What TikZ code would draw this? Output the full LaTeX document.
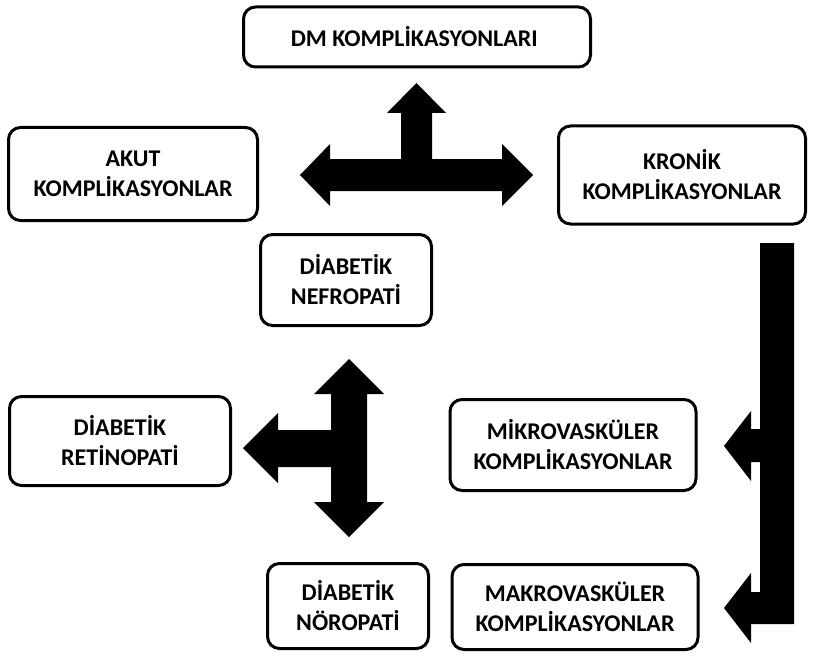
\documentclass[tikz,border=0pt]{standalone}
\usepackage{fontspec}
\setmainfont{Carlito}
\usepackage{tikz}

\begin{document}
\begin{tikzpicture}[x=1pt, y=-1pt, style={
  kutu/.style={
    draw,
    line width=3pt,
    rounded corners=12pt,
    align=center,
    inner sep=0pt,
    font=\fontsize{24}{30}\selectfont\bfseries,
  },
  blokok/.style={
    fill=black,
  }
}]
\useasboundingbox (0,0) rectangle (824,658);
\draw[]
  node[kutu, minimum width=347, minimum height=60] (dm) at (417,37) {
    DM KOMPLİKASYONLARI
  }
  node[kutu, minimum width=249, minimum height=93] (akut) at (133,174) {
    AKUT\\KOMPLİKASYONLAR
  }
  node[kutu, minimum width=247, minimum height=98] (kronik) at (682,175) {
    KRONİK\\KOMPLİKASYONLAR
  }
  node[kutu, minimum width=171, minimum height=91] (nefro) at (346,280) {
    DİABETİK\\NEFROPATİ
  }
  node[kutu, minimum width=221, minimum height=89] (retino) at (120,441) {
    DİABETİK\\RETİNOPATİ
  }
  node[kutu, minimum width=246, minimum height=91] (mikro) at (573,445) {
    MİKROVASKÜLER\\KOMPLİKASYONLAR
  }
  node[kutu, minimum width=161, minimum height=85] (noro) at (348,606) {
    DİABETİK\\NÖROPATİ
  }
  node[kutu, minimum width=246, minimum height=85] (makro) at (575,607) {
    MAKROVASKÜLER\\KOMPLİKASYONLAR
  }
;
\fill[blokok]
  (300,175) -- (330,144) -- (330,159) -- (401,159) -- (401,113)
  -- (387,113) -- (416.5,83) -- (446,113) -- (432,113) -- (432,159)
  -- (502,159) -- (502,144) -- (533,175) -- (502,206) -- (502,191)
  -- (330,191) -- (330,206) -- cycle;
\fill[blokok]
  (349,359) -- (384,394) -- (367,394) -- (367,502) -- (384,502)
  -- (349,537) -- (314,502) -- (331,502) -- (331,467) -- (278,467)
  -- (278,483) -- (243,448) -- (278,413) -- (278,430) -- (331,430)
  -- (331,394) -- (314,394) -- cycle;
\fill[blokok]
  (760,243) -- (794,243) -- (794,624) -- (751,624) -- (751,643)
  -- (724,608) -- (751,573) -- (751,592) -- (760,592) -- (760,462)
  -- (751,462) -- (751,481) -- (724,446) -- (751,411) -- (751,429)
  -- (760,429) -- cycle;
\end{tikzpicture}
\end{document}
